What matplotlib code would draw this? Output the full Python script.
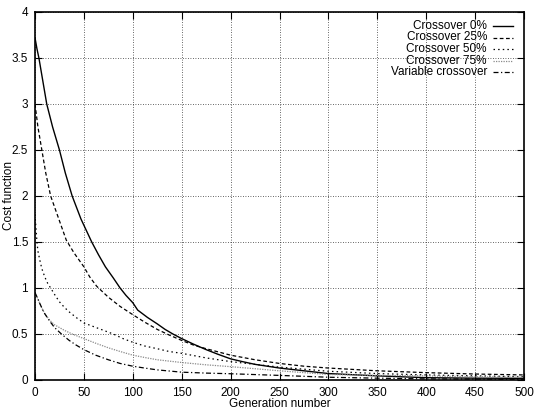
import numpy as np
import matplotlib
matplotlib.use('Agg')
import matplotlib.pyplot as plt

plt.rcParams['font.family'] = ['Liberation Sans', 'DejaVu Sans']

# cost per generation for each crossover setting
gen_0 = [0, 2, 4, 8, 12, 18, 25, 31, 38, 47, 58, 65, 72, 80, 87, 93, 100,
         105, 115, 125, 133, 141, 150, 162, 175, 187, 200, 212, 225, 250,
         275, 300, 350, 400, 450, 500]
cost_0 = [3.72, 3.6, 3.5, 3.25, 3.0, 2.75, 2.5, 2.25, 2.0, 1.75, 1.5, 1.36,
          1.23, 1.11, 1.0, 0.92, 0.84, 0.76, 0.68, 0.61, 0.55, 0.5, 0.45,
          0.39, 0.33, 0.28, 0.23, 0.2, 0.17, 0.13, 0.1, 0.07, 0.045, 0.025,
          0.02, 0.018]

gen_25 = [0, 3, 7, 11, 16, 20, 25, 32, 40, 50, 56, 63, 75, 87, 100, 112,
          125, 137, 150, 162, 175, 200, 225, 250, 275, 300, 350, 400, 450,
          500]
cost_25 = [3.0, 2.75, 2.5, 2.25, 2.0, 1.88, 1.73, 1.52, 1.38, 1.23, 1.12,
           1.02, 0.9, 0.8, 0.71, 0.63, 0.55, 0.49, 0.43, 0.38, 0.34, 0.27,
           0.22, 0.18, 0.15, 0.13, 0.1, 0.08, 0.065, 0.055]

gen_50 = [0, 1, 2, 3, 5, 7, 10, 13, 16, 20, 25, 30, 35, 42, 50, 65, 80, 90,
          100, 112, 125, 137, 150, 175, 200, 225, 250, 300, 350, 400, 450,
          500]
cost_50 = [1.8, 1.65, 1.5, 1.4, 1.3, 1.21, 1.12, 1.05, 1.0, 0.93, 0.85,
           0.79, 0.74, 0.68, 0.62, 0.56, 0.5, 0.45, 0.41, 0.37, 0.34, 0.31,
           0.29, 0.24, 0.2, 0.17, 0.14, 0.095, 0.07, 0.055, 0.045, 0.036]

gen_75 = [0, 3, 5, 8, 10, 15, 20, 25, 30, 38, 50, 62, 75, 87, 100, 112, 125,
          150, 175, 200, 250, 300, 350, 400, 450, 500]
cost_75 = [0.95, 0.88, 0.83, 0.76, 0.72, 0.65, 0.6, 0.57, 0.54, 0.5, 0.45,
           0.4, 0.35, 0.31, 0.27, 0.245, 0.22, 0.19, 0.165, 0.145, 0.1,
           0.06, 0.05, 0.045, 0.035, 0.03]

gen_var = [0, 3, 5, 8, 10, 15, 20, 27, 35, 42, 50, 62, 75, 87, 100, 112, 125,
           150, 175, 200, 250, 300, 350, 400, 450, 500]
cost_var = [0.95, 0.88, 0.83, 0.76, 0.72, 0.64, 0.57, 0.5, 0.43, 0.38, 0.33,
            0.27, 0.22, 0.18, 0.15, 0.13, 0.11, 0.085, 0.075, 0.068, 0.05,
            0.03, 0.02, 0.012, 0.01, 0.008]

labels = ['Crossover 0%', 'Crossover 25%', 'Crossover 50%', 'Crossover 75%',
          'Variable crossover']

series = [(gen_0, cost_0), (gen_25, cost_25), (gen_50, cost_50),
          (gen_75, cost_75), (gen_var, cost_var)]
styles = [
    dict(color='black', lw=1.0, ls='-'),
    dict(color='black', lw=0.9, ls=(0, (3, 2))),
    dict(color='black', lw=0.9, ls=(0, (1.2, 2.5))),
    dict(color='#8a8a8a', lw=0.9, ls=(0, (1, 1))),
    dict(color='black', lw=0.9, ls=(0, (4, 2, 1, 2))),
]

W, H = 534, 412
fig = plt.figure(figsize=(W / 100, H / 100), dpi=100)
ax = fig.add_axes([35 / W, 1 - 380 / H, (524 - 35) / W, (380 - 12) / H])

for (x, y), st in zip(series, styles):
    ax.plot(x, y, **st)

ax.set_xlim(0, 500)
ax.set_ylim(0, 4)
ax.set_xticks(np.arange(0, 501, 50))
ax.set_yticks(np.arange(0, 4.01, 0.5))
ax.set_yticklabels(['0', '0.5', '1', '1.5', '2', '2.5', '3', '3.5', '4'])
ax.grid(True, color='black', lw=0.6, ls=(0, (1, 2)), alpha=0.8)
ax.tick_params(direction='in', length=5, width=0.8, top=True, right=True,
               labelsize=8.5, pad=5)
for sp in ax.spines.values():
    sp.set_linewidth(1.2)

ax.set_xlabel('Generation number', fontsize=8.5, labelpad=-1)
ax.set_ylabel('Cost function', fontsize=8.5)
ax.yaxis.set_label_coords(-0.04, 0.5)

# gnuplot-style key: text right-aligned, sample line to its right
for i, (lab, st) in enumerate(zip(labels, styles)):
    py = 26 + i * 11.5
    fig.text(487 / W, 1 - py / H, lab, ha='right', va='center', fontsize=8.5)
    fig.add_artist(plt.Line2D([493 / W, 513 / W], [1 - py / H] * 2, **st))

fig.savefig('out.png', dpi=100)
